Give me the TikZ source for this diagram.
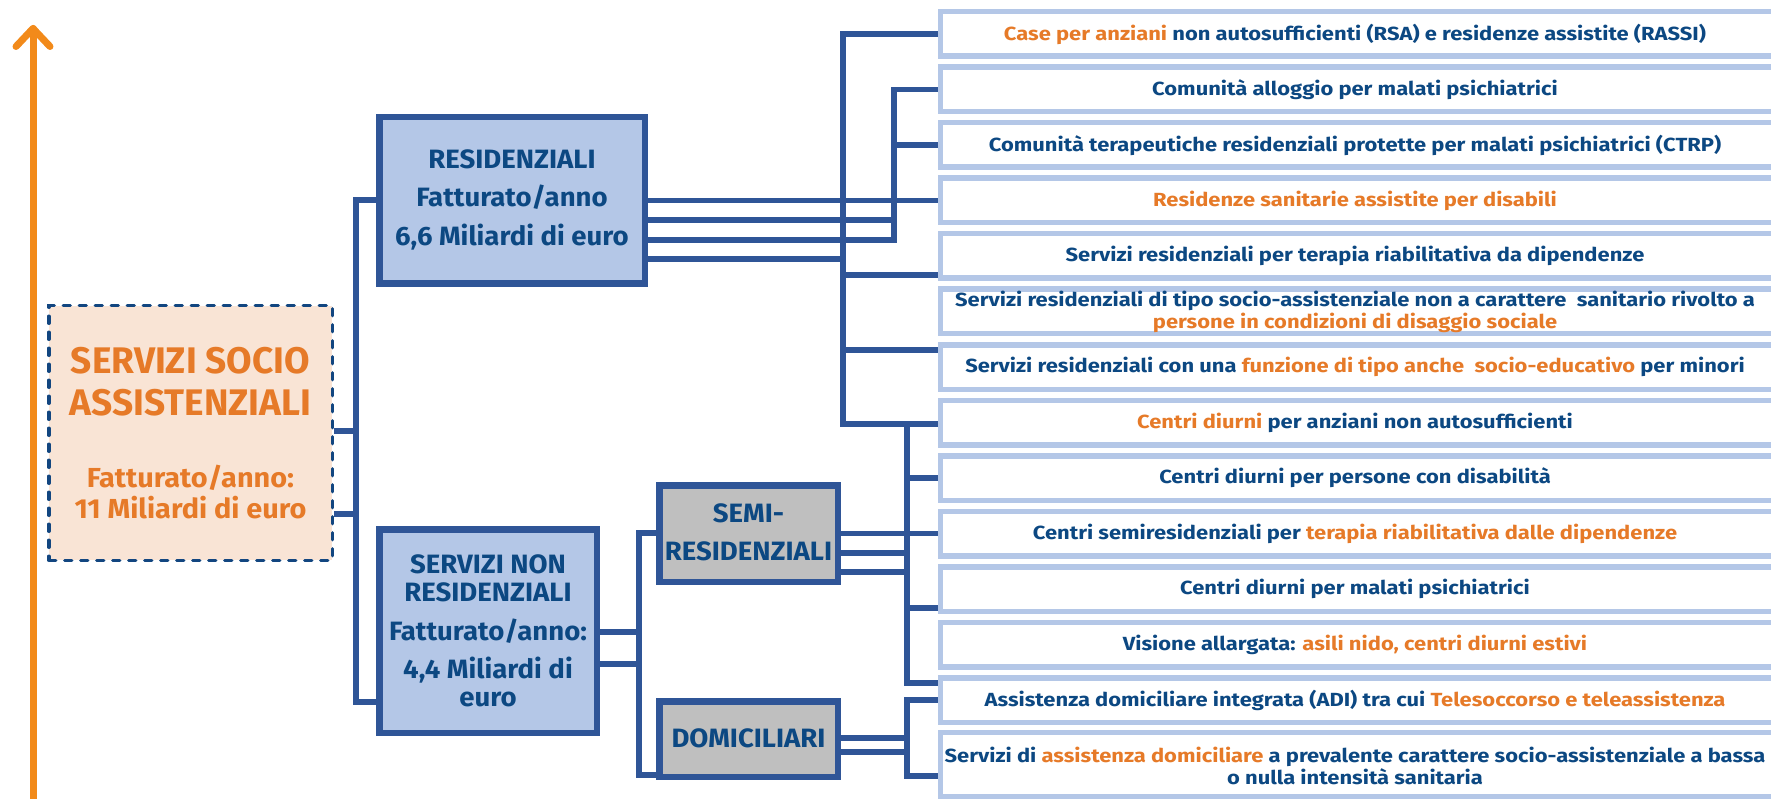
\documentclass[tikz,border=0pt]{standalone}
\usepackage{fontspec}
\setmainfont{Fira Sans}
\newfontfamily\itemfont{Fira Sans}[FakeStretch=1.155]
\newfontfamily\catfont{Fira Sans}[FakeStretch=1.04]
\newfontfamily\subfont{Fira Sans}[FakeStretch=1.05]
\usetikzlibrary{calc}
\pgfdeclarelayer{bg}
\pgfsetlayers{bg,main}
\definecolor{connc}{RGB}{47,85,151}
\definecolor{lblue}{RGB}{180,199,231}
\definecolor{tblue}{RGB}{12,72,130}
\definecolor{torange}{RGB}{230,122,40}
\definecolor{aorange}{RGB}{242,138,26}
\definecolor{peach}{RGB}{249,228,213}
\definecolor{dashblue}{RGB}{18,70,128}
\definecolor{gfill}{RGB}{191,191,191}
\newcommand{\oc}[1]{\textcolor{torange}{#1}}
\begin{document}
\begin{tikzpicture}[x=1pt,y=-1pt,
  conn/.style={draw=connc, line width=5.5pt},
  itembox/.style={draw=lblue, line width=5.5pt, fill=white, rectangle, inner sep=0pt, minimum width=900pt, minimum height=44.5pt, anchor=west},
  itemtext/.style={text=tblue, font=\itemfont\bfseries\fontsize{19}{22}\selectfont, align=center, inner sep=0pt},
  catblue/.style={draw=connc, line width=6.5pt, fill=lblue, rectangle, inner sep=0pt},
  catgray/.style={draw=connc, line width=6.5pt, fill=gfill, rectangle, inner sep=0pt},
  cattext/.style={text=tblue, font=\catfont\bfseries\fontsize{26.5}{38.5}\selectfont, align=center, inner sep=0pt},
]
\useasboundingbox (0,0) rectangle (1771,799);

% orange axis arrow
\coordinate (atip) at (33,28.5);
\coordinate (abot) at (33,810);
\coordinate (al) at (16,46.5);
\coordinate (ar) at (50,46.5);
\draw[aorange, line width=7pt, line cap=round, line join=round] (abot) -- (atip);
\draw[aorange, line width=7pt, line cap=round, line join=round] (al) -- (atip) -- (ar);

% root box
\node[draw=dashblue, line width=3.5pt, dash pattern=on 7pt off 9pt, line cap=round, fill=peach, rectangle, inner sep=0pt,
      minimum width=283.5pt, minimum height=254.5pt] (root) at (190.5,433) {};
\node[text=torange, font=\bfseries\fontsize{37}{42}\selectfont, align=center, inner sep=0pt] (roottitle) at (190.5,382) {SERVIZI SOCIO\\ASSISTENZIALI};
\node[text=torange, font=\subfont\bfseries\fontsize{27.5}{31}\selectfont, align=center, inner sep=0pt] (rootsub) at (190.5,492.5) {Fatturato/anno:\\11 Miliardi di euro};

% category boxes
\node[catblue, minimum width=265.5pt, minimum height=166.5pt] (res) at (512,200.5) {};
\node[cattext] (restext) at (512,199.5) {RESIDENZIALI\\Fatturato/anno\\6,6 Miliardi di euro};
\node[catblue, minimum width=217.5pt, minimum height=203.5pt] (snr) at (488,631) {};
\node[cattext, font=\catfont\bfseries\fontsize{26.5}{28}\selectfont] (snrtext) at (488,630.5) {SERVIZI NON\\RESIDENZIALI\\[11pt]Fatturato/anno:\\[10pt]4,4 Miliardi di\\euro};
\node[catgray, minimum width=178.5pt, minimum height=96.5pt] (semi) at (748.5,533.5) {};
\node[cattext] (semitext) at (748.5,532.5) {SEMI-\\RESIDENZIALI};
\node[catgray, minimum width=178.5pt, minimum height=75.5pt] (dom) at (748.5,739) {};
\node[cattext] (domtext) at (748.5,738) {DOMICILIARI};

% item boxes
\node[itembox] (b1) at (937.75,34) {};
\node[itembox] (b2) at (937.75,89.5) {};
\node[itembox] (b3) at (937.75,145) {};
\node[itembox] (b4) at (937.75,200.5) {};
\node[itembox] (b5) at (937.75,256) {};
\node[itembox] (b6) at (937.75,311.5) {};
\node[itembox] (b7) at (937.75,367) {};
\node[itembox] (b8) at (937.75,422.5) {};
\node[itembox] (b9) at (937.75,478) {};
\node[itembox] (b10) at (937.75,533.5) {};
\node[itembox] (b11) at (937.75,589) {};
\node[itembox] (b12) at (937.75,644.5) {};
\node[itembox] (b13) at (937.75,700) {};
\node[itembox, minimum height=63.75pt] (b14) at (937.75,764.6) {};

\node[itemtext] (t1) at (1355,34) {\oc{Case per anziani} non autosufficienti (RSA) e residenze assistite (RASSI)};
\node[itemtext] (t2) at (1355,89.5) {Comunità alloggio per malati psichiatrici};
\node[itemtext] (t3) at (1355,145) {Comunità terapeutiche residenziali protette per malati psichiatrici (CTRP)};
\node[itemtext] (t4) at (1355,200.5) {\oc{Residenze sanitarie assistite per disabili}};
\node[itemtext] (t5) at (1355,256) {Servizi residenziali per terapia riabilitativa da dipendenze};
\node[itemtext] (t6) at (1355,311.5) {Servizi residenziali di tipo socio-assistenziale non a carattere\ \ sanitario rivolto a\\\oc{persone in condizioni di disaggio sociale}};
\node[itemtext] (t7) at (1355,367) {Servizi residenziali con una \oc{funzione di tipo anche\ \ socio-educativo} per minori};
\node[itemtext] (t8) at (1355,422.5) {\oc{Centri diurni} per anziani non autosufficienti};
\node[itemtext] (t9) at (1355,478) {Centri diurni per persone con disabilità};
\node[itemtext] (t10) at (1355,533.5) {Centri semiresidenziali per \oc{terapia riabilitativa dalle dipendenze}};
\node[itemtext] (t11) at (1355,589) {Centri diurni per malati psichiatrici};
\node[itemtext] (t12) at (1355,644.5) {Visione allargata: \oc{asili nido, centri diurni estivi}};
\node[itemtext] (t13) at (1355,700) {Assistenza domiciliare integrata (ADI) tra cui \oc{Telesoccorso e teleassistenza}};
\node[itemtext] (t14) at (1355,766) {Servizi di \oc{assistenza domiciliare} a prevalente carattere socio-assistenziale a bassa\\o nulla intensità sanitaria};

% bus coordinates
\coordinate (j0) at (356,0);
\coordinate (j1) at (843,0);
\coordinate (j2) at (894,0);
\coordinate (j3) at (907,0);
\coordinate (j5) at (639,0);

\begin{pgfonlayer}{bg}
% root
\draw[conn] (root.east |- 0,431) -- (j0 |- 0,431);
\draw[conn] (root.east |- 0,514) -- (j0 |- 0,514);
\draw[conn] (res.west |- 0,200) -| (j0 |- 0,702) -- (snr.west |- 0,702);
% residenziali
\draw[conn] (res.east |- b4.west) -- (b4.west);
\draw[conn] (res.east |- 0,220) -- (j2 |- 0,220);
\draw[conn] (b2.west) -| (j2 |- 0,240) -- (res.east |- 0,240);
\draw[conn] (j2 |- b3.west) -- (b3.west);
\draw[conn] (b1.west) -| (j1 |- 0,424) -- (b8.west |- 0,424);
\draw[conn] (res.east |- 0,259) -- (j1 |- 0,259);
\draw[conn] (j1 |- 0,275) -- (b5.west |- 0,275);
\draw[conn] (j1 |- 0,350) -- (b7.west |- 0,350);
% semi-residenziali
\draw[conn] (semi.east |- b10.west) -- (b10.west);
\draw[conn] (semi.east |- 0,553) -- (j3 |- 0,553);
\draw[conn] (semi.east |- 0,572) -- (j3 |- 0,572);
\draw[conn] (j3 |- 0,424) -- (j3 |- 0,683) -- (b13.west |- 0,683);
\draw[conn] (j3 |- b9.west) -- (b9.west);
\draw[conn] (j3 |- 0,608) -- (b11.west |- 0,608);
% domiciliari
\draw[conn] (b13.west) -| (j3 |- 0,776) -- (b14.west |- 0,776);
\draw[conn] (dom.east |- 0,738) -- (j3 |- 0,738);
\draw[conn] (dom.east |- 0,752) -- (j3 |- 0,752);
% servizi non residenziali
\draw[conn] (snr.east |- 0,632) -- (j5 |- 0,632);
\draw[conn] (snr.east |- 0,664) -- (j5 |- 0,664);
\draw[conn] (semi.west |- 0,533) -| (j5 |- 0,775) -- (dom.west |- 0,775);
\end{pgfonlayer}
\end{tikzpicture}
\end{document}
